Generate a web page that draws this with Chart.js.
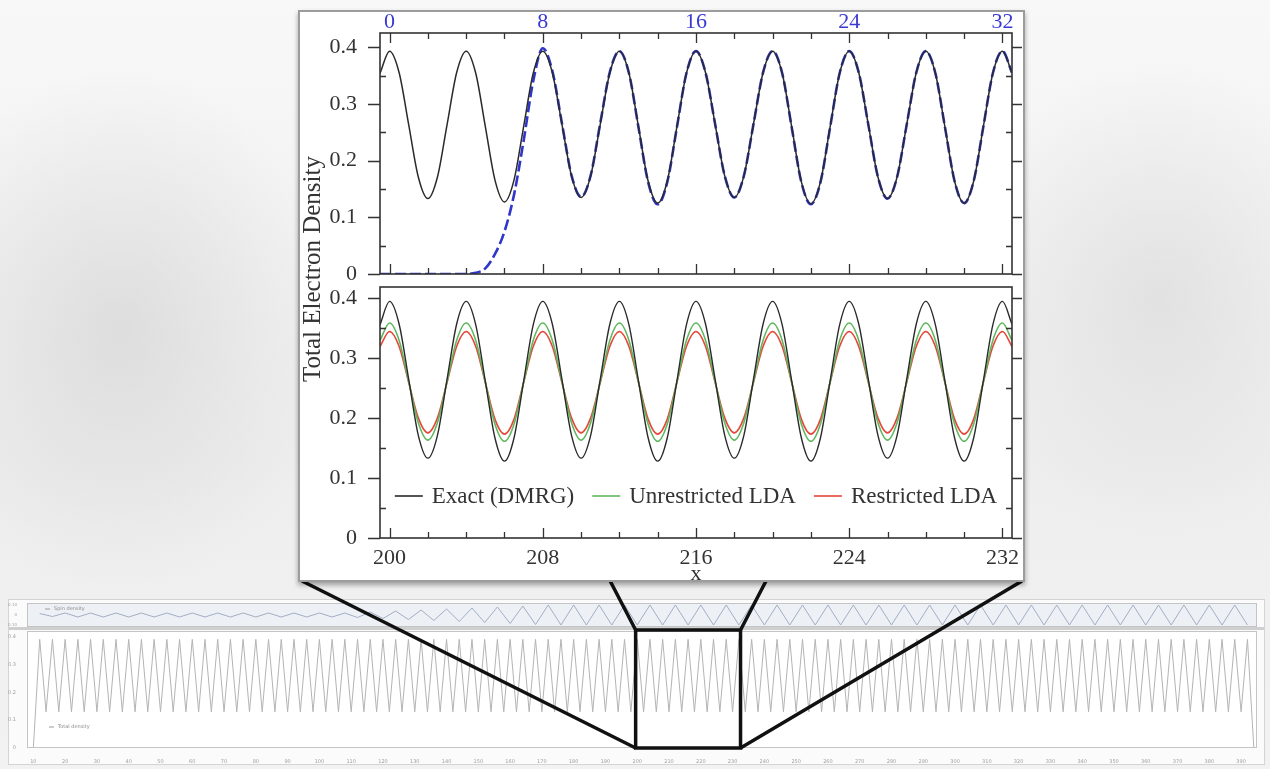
<!DOCTYPE html>
<html>
<head>
<meta charset="utf-8">
<script src="https://cdn.jsdelivr.net/npm/chart.js@4.4.1/dist/chart.umd.min.js"></script>
<style>
html,body{margin:0;padding:0;width:1270px;height:769px;overflow:hidden;}
body{position:relative;
  background:
    radial-gradient(ellipse 220px 260px at 120px 330px, rgba(205,205,205,0.55), rgba(205,205,205,0) 100%),
    radial-gradient(ellipse 200px 240px at 1160px 300px, rgba(210,210,210,0.5), rgba(210,210,210,0) 100%),
    linear-gradient(#f8f8f8, #eeeeee 60%, #f2f2f2);
}
canvas{position:absolute;display:block;}
#miniBox{position:absolute;left:8px;top:599px;width:1257px;height:166px;background:#fbfbfb;border:1px solid #d4d4d4;box-sizing:border-box;z-index:0;}
#miniSep{position:absolute;left:9px;top:627px;width:1255px;height:3px;background:#cfcfcf;z-index:1;}
#inset{position:absolute;left:298px;top:10px;width:727px;height:572px;box-sizing:border-box;background:#fff;border:2px solid #9c9c9c;box-shadow:0 3px 5px rgba(0,0,0,0.35);z-index:3;}
#ytitle{position:absolute;left:162px;top:255px;width:300px;height:28px;line-height:28px;text-align:center;transform:rotate(-90deg);font-family:'Liberation Serif',serif;font-size:25px;color:#333;z-index:5;white-space:nowrap;}
</style>
</head>
<body>
<div id="miniBox"></div>
<canvas id="miniTop" width="1257" height="30" style="left:8px;top:600px;z-index:1"></canvas>
<canvas id="miniBottom" width="1257" height="137" style="left:8px;top:628px;z-index:1"></canvas>
<div id="miniSep"></div>
<canvas id="overlay" width="1270" height="769" style="left:0;top:0;z-index:2"></canvas>
<div id="inset"></div>
<canvas id="topChart" width="725" height="281" style="left:300px;top:0;z-index:4"></canvas>
<canvas id="bottomChart" width="725" height="310" style="left:300px;top:281px;z-index:4"></canvas>
<div id="ytitle">Total Electron Density</div>
<script>
// ---------------- data ----------------
const sites = [199.5,200,200.5,201,201.5,202,202.5,203,203.5,204,204.5,205,205.5,206,206.5,207,207.5,208,
  208.5,209,209.5,210,210.5,211,211.5,212,212.5,213,213.5,214,214.5,215,215.5,216,216.5,217,217.5,218,
  218.5,219,219.5,220,220.5,221,221.5,222,222.5,223,223.5,224,224.5,225,225.5,226,226.5,227,227.5,228,
  228.5,229,229.5,230,230.5,231,231.5,232,232.5];

const exactTop = [0.354,0.393,
  0.355,0.263,0.171,0.133,0.171,0.263,0.355,0.393,
  0.354,0.260,0.166,0.127,0.166,0.260,0.354,0.393,
  0.355,0.264,0.173,0.135,0.173,0.264,0.355,0.393,
  0.354,0.259,0.164,0.125,0.164,0.259,0.354,0.393,
  0.355,0.264,0.173,0.135,0.173,0.264,0.355,0.393,
  0.354,0.259,0.163,0.124,0.163,0.259,0.354,0.393,
  0.355,0.263,0.171,0.133,0.171,0.263,0.355,0.393,
  0.354,0.259,0.164,0.125,0.164,0.259,0.354,0.393,
  0.355];

const dashedTop = [0,0,0,0,0,0,0,0,0,0,
  0.002,0.010,0.035,0.075,0.140,0.235,0.340,0.398,
  0.358,0.266,0.174,0.136,0.174,0.266,0.356,0.393,
  0.354,0.258,0.162,0.123,0.162,0.258,0.354,0.393,
  0.355,0.264,0.173,0.135,0.173,0.264,0.355,0.393,
  0.354,0.258,0.162,0.123,0.162,0.258,0.354,0.393,
  0.355,0.263,0.171,0.133,0.171,0.263,0.355,0.393,
  0.354,0.259,0.164,0.125,0.164,0.259,0.354,0.393,
  0.355];

const exactBottom = [0.355,0.394,
  0.356,0.264,0.171,0.133,0.171,0.264,0.356,0.394,
  0.355,0.261,0.167,0.128,0.167,0.261,0.355,0.394,
  0.356,0.264,0.171,0.133,0.171,0.264,0.356,0.394,
  0.355,0.261,0.167,0.128,0.167,0.261,0.355,0.394,
  0.356,0.264,0.171,0.133,0.171,0.264,0.356,0.394,
  0.355,0.261,0.167,0.128,0.167,0.261,0.355,0.394,
  0.356,0.264,0.171,0.133,0.171,0.264,0.356,0.394,
  0.355,0.261,0.167,0.128,0.167,0.261,0.355,0.394,
  0.356];

const unrestrictedLDA = [0.329,0.358,
  0.329,0.260,0.192,0.163,0.192,0.260,0.329,0.358,
  0.329,0.259,0.190,0.161,0.190,0.259,0.329,0.358,
  0.329,0.260,0.192,0.163,0.192,0.260,0.329,0.358,
  0.329,0.259,0.190,0.161,0.190,0.259,0.329,0.358,
  0.329,0.260,0.192,0.163,0.192,0.260,0.329,0.358,
  0.329,0.259,0.190,0.161,0.190,0.259,0.329,0.358,
  0.329,0.260,0.192,0.163,0.192,0.260,0.329,0.358,
  0.329,0.259,0.190,0.161,0.190,0.259,0.329,0.358,
  0.329];

const restrictedLDA = [0.319,0.344,
  0.319,0.259,0.200,0.175,0.200,0.259,0.319,0.344,
  0.319,0.259,0.198,0.173,0.198,0.259,0.319,0.344,
  0.319,0.259,0.200,0.175,0.200,0.259,0.319,0.344,
  0.319,0.259,0.198,0.173,0.198,0.259,0.319,0.344,
  0.319,0.259,0.200,0.175,0.200,0.259,0.319,0.344,
  0.319,0.259,0.198,0.173,0.198,0.259,0.319,0.344,
  0.319,0.259,0.200,0.175,0.200,0.259,0.319,0.344,
  0.319,0.259,0.198,0.173,0.198,0.259,0.319,0.344,
  0.319];

const seriesNames = ['Exact (DMRG)', 'Unrestricted LDA', 'Restricted LDA'];
const xTickValues = [200, 208, 216, 224, 232];
const xTickLabelsBottom = ['200', '208', '216', '224', '232'];
const xTickLabelsTop = ['0', '8', '16', '24', '32'];
const yTickValues = [0, 0.1, 0.2, 0.3, 0.4];
const yTickLabels = ['0', '0.1', '0.2', '0.3', '0.4'];
const yMinorValues = [0.05, 0.15, 0.25, 0.35];
const xRange = [199.5, 232.5];

// overview strip (whole chain)
const miniTotalStart = 10, miniTotalStep = 2;
const miniTotal = [0,
  0.39,0.13,0.39,0.13,0.39,0.13,0.39,0.13,0.39,0.13,0.39,0.13,0.39,0.13,0.39,0.13,
  0.39,0.13,0.39,0.13,0.39,0.13,0.39,0.13,0.39,0.13,0.39,0.13,0.39,0.13,0.39,0.13,
  0.39,0.13,0.39,0.13,0.39,0.13,0.39,0.13,0.39,0.13,0.39,0.13,0.39,0.13,0.39,0.13,
  0.39,0.13,0.39,0.13,0.39,0.13,0.39,0.13,0.39,0.13,0.39,0.13,0.39,0.13,0.39,0.13,
  0.39,0.13,0.39,0.13,0.39,0.13,0.39,0.13,0.39,0.13,0.39,0.13,0.39,0.13,0.39,0.13,
  0.39,0.13,0.39,0.13,0.39,0.13,0.39,0.13,0.39,0.13,0.39,0.13,0.39,0.13,0.39,0.13,
  0.39,0.13,0.39,0.13,0.39,0.13,0.39,0.13,0.39,0.13,0.39,0.13,0.39,0.13,0.39,0.13,
  0.39,0.13,0.39,0.13,0.39,0.13,0.39,0.13,0.39,0.13,0.39,0.13,0.39,0.13,0.39,0.13,
  0.39,0.13,0.39,0.13,0.39,0.13,0.39,0.13,0.39,0.13,0.39,0.13,0.39,0.13,0.39,0.13,
  0.39,0.13,0.39,0.13,0.39,0.13,0.39,0.13,0.39,0.13,0.39,0.13,0.39,0.13,0.39,0.13,
  0.39,0.13,0.39,0.13,0.39,0.13,0.39,0.13,0.39,0.13,0.39,0.13,0.39,0.13,0.39,0.13,
  0.39,0.13,0.39,0.13,0.39,0.13,0.39,0.13,0.39,0.13,0.39,0.13,0.39,0.13,
  0.39,0];

const miniSpinStart = 12, miniSpinStep = 4;
const miniSpin = [
  0.015,-0.015,0.02,-0.02,0.02,-0.02,0.02,-0.02,0.02,-0.02,0.02,-0.02,0.02,
  -0.02,0.02,-0.02,0.02,-0.02,0.02,-0.02,0.02,-0.02,0.02,-0.02,0.02,
  -0.025,0.03,-0.035,0.04,-0.045,0.05,-0.055,0.06,-0.065,0.07,-0.075,0.08,-0.085,0.09,-0.095,
  0.1,-0.1,0.1,-0.1,0.1,-0.1,0.1,-0.1,0.1,-0.1,0.1,-0.1,0.1,-0.1,0.1,-0.1,
  0.1,-0.1,0.1,-0.1,0.1,-0.1,0.1,-0.1,0.1,-0.1,0.1,-0.1,0.1,-0.1,0.1,-0.1,
  0.1,-0.1,0.1,-0.1,0.1,-0.1,0.1,-0.1,0.1,-0.1,0.1,-0.1,0.1,-0.1,0.1,-0.1,
  0.1,-0.1,0.1,-0.1,0.1,-0.1,0.1,-0.1];
const miniRange = [8, 395];
const miniXTicks = [10,20,30,40,50,60,70,80,90,100,110,120,130,140,150,160,170,180,190,200,
  210,220,230,240,250,260,270,280,290,300,310,320,330,340,350,360,370,380,390];
const miniYTicks = [0, 0.1, 0.2, 0.3, 0.4];
const miniSpinTicks = [-0.1, -0.05, 0, 0.05, 0.1];
const miniLabels = ['Spin density', 'Total density'];

// ---------------- helpers ----------------
Chart.defaults.animation = false;
Chart.defaults.font.family = "'Liberation Serif','Times New Roman',serif";
const pts = (xs, ys) => ys.map((y, i) => ({x: xs[i], y}));
const seq = (start, step, arr) => arr.map((_, i) => start + step * i);
const noPad = s => { s.paddingTop = 0; s.paddingBottom = 0; s.paddingLeft = 0; s.paddingRight = 0; };

const frameTicks = {
  id: 'frameTicks',
  afterDatasetsDraw(chart, args, o) {
    const {ctx, chartArea: a} = chart;
    const xs = chart.scales.x, ys = chart.scales.y;
    ctx.save();
    ctx.strokeStyle = o.color;
    ctx.lineWidth = o.width;
    ctx.strokeRect(a.left, a.top, a.right - a.left, a.bottom - a.top);
    ctx.lineWidth = 1.3;
    ctx.beginPath();
    for (let v = xTickValues[0]; v <= xTickValues[xTickValues.length - 1]; v += 2) {
      const px = Math.round(xs.getPixelForValue(v)) + 0.5;
      const len = xTickValues.includes(v) ? 10 : 6;
      if (o.bottomTicks) { ctx.moveTo(px, a.bottom); ctx.lineTo(px, a.bottom - len); }
      if (o.topTicks) { ctx.moveTo(px, a.top); ctx.lineTo(px, a.top + len); }
    }
    for (const v of yMinorValues) {
      const py = Math.round(ys.getPixelForValue(v)) + 0.5;
      ctx.moveTo(a.left, py); ctx.lineTo(a.left + 6, py);
      ctx.moveTo(a.right, py); ctx.lineTo(a.right - 6, py);
    }
    for (const v of yTickValues) {
      const py = Math.round(ys.getPixelForValue(v)) + 0.5;
      ctx.moveTo(a.left - 12, py); ctx.lineTo(a.left, py);
      ctx.moveTo(a.right, py); ctx.lineTo(a.right + 10, py);
    }
    ctx.stroke();
    ctx.restore();
  }
};

const insideLegend = {
  id: 'insideLegend',
  afterDatasetsDraw(chart, args, o) {
    if (!o.show) return;
    const {ctx, chartArea: a} = chart;
    ctx.save();
    ctx.font = o.size + "px 'Liberation Serif', serif";
    const items = chart.data.datasets.map(d => ({label: d.label, color: d.borderColor, w: ctx.measureText(d.label).width}));
    const total = items.reduce((s, it) => s + o.line + o.gap + it.w, 0) + o.itemGap * (items.length - 1);
    let x = (a.left + a.right) / 2 - total / 2;
    const y = a.top + o.offsetY;
    ctx.textBaseline = 'middle';
    for (const it of items) {
      ctx.strokeStyle = it.color; ctx.lineWidth = 1.6;
      ctx.beginPath(); ctx.moveTo(x, y); ctx.lineTo(x + o.line, y); ctx.stroke();
      x += o.line + o.gap;
      ctx.fillStyle = '#333';
      ctx.fillText(it.label, x, y + 1);
      x += it.w + o.itemGap;
    }
    ctx.restore();
  }
};

const yAxis = (max) => ({
  type: 'linear', min: 0, max,
  afterFit: s => { s.width = 80; noPad(s); },
  afterBuildTicks: s => { s.ticks = yTickValues.map(v => ({value: v})); },
  ticks: { callback: v => yTickLabels[yTickValues.indexOf(v)], font: {size: 22}, color: '#333', padding: 15 },
  grid: {display: false}, border: {display: false}
});

// ---------------- inset: top panel ----------------
new Chart(document.getElementById('topChart'), {
  type: 'line',
  data: { datasets: [
    { label: 'Exact (DMRG)', data: pts(sites, exactTop), borderColor: '#2a2a2a', borderWidth: 1.5, pointRadius: 0, cubicInterpolationMode: 'monotone' },
    { label: 'Adiabatic', data: pts(sites, dashedTop), borderColor: '#2f36c9', borderWidth: 2.6, borderDash: [11, 4], pointRadius: 0, cubicInterpolationMode: 'monotone' }
  ]},
  options: {
    responsive: false, animation: false,
    layout: { padding: {left: 0, right: 13, top: 0, bottom: 7} },
    plugins: { legend: {display: false}, tooltip: {enabled: false},
      frameTicks: {color: '#333', width: 1.6, topTicks: true, bottomTicks: true} },
    scales: {
      x: { type: 'linear', position: 'top', min: xRange[0], max: xRange[1],
        afterFit: s => { s.height = 33; noPad(s); },
        afterBuildTicks: s => { s.ticks = xTickValues.map(v => ({value: v})); },
        ticks: { callback: v => xTickLabelsTop[xTickValues.indexOf(v)], font: {size: 22}, color: '#3a3ad2', padding: -10, maxRotation: 0, autoSkip: false },
        grid: {display: false}, border: {display: false} },
      y: yAxis(0.425)
    }
  },
  plugins: [frameTicks]
});

// ---------------- inset: bottom panel ----------------
new Chart(document.getElementById('bottomChart'), {
  type: 'line',
  data: { datasets: [
    { label: seriesNames[0], data: pts(sites, exactBottom), borderColor: '#2a2a2a', borderWidth: 1.4, pointRadius: 0, cubicInterpolationMode: 'monotone', order: 1 },
    { label: seriesNames[1], data: pts(sites, unrestrictedLDA), borderColor: '#5fb85f', borderWidth: 1.6, pointRadius: 0, cubicInterpolationMode: 'monotone', order: 2 },
    { label: seriesNames[2], data: pts(sites, restrictedLDA), borderColor: '#e5473a', borderWidth: 1.6, pointRadius: 0, cubicInterpolationMode: 'monotone', order: 3 }
  ]},
  options: {
    responsive: false, animation: false,
    layout: { padding: {left: 0, right: 13, top: 6, bottom: 0} },
    plugins: { legend: {display: false}, tooltip: {enabled: false},
      frameTicks: {color: '#333', width: 1.6, topTicks: false, bottomTicks: true},
      insideLegend: {show: true, size: 23, line: 28, gap: 9, itemGap: 18, offsetY: 209} },
    scales: {
      x: { type: 'linear', position: 'bottom', min: xRange[0], max: xRange[1],
        afterFit: s => { s.height = 53; noPad(s); },
        afterBuildTicks: s => { s.ticks = xTickValues.map(v => ({value: v})); },
        ticks: { callback: v => xTickLabelsBottom[xTickValues.indexOf(v)], font: {size: 22}, color: '#333', padding: -1, maxRotation: 0, autoSkip: false },
        title: { display: true, text: 'x', font: {size: 22}, color: '#333', padding: {top: 0, bottom: 4} },
        grid: {display: false}, border: {display: false} },
      y: yAxis(0.418)
    }
  },
  plugins: [frameTicks, insideLegend]
});

// ---------------- overview strip ----------------
const miniFrame = {
  id: 'miniFrame',
  beforeDatasetsDraw(chart, args, o) {
    const {ctx, chartArea: a} = chart;
    ctx.save();
    if (o.fill) { ctx.fillStyle = o.fill; ctx.fillRect(a.left, a.top, a.right - a.left, a.bottom - a.top); }
    ctx.restore();
  },
  afterDatasetsDraw(chart, args, o) {
    const {ctx, chartArea: a} = chart;
    ctx.save();
    ctx.strokeStyle = '#c4c4c4'; ctx.lineWidth = 1;
    ctx.strokeRect(a.left + 0.5, a.top + 0.5, a.right - a.left - 1, a.bottom - a.top - 1);
    ctx.font = "5px 'DejaVu Sans', sans-serif";
    ctx.fillStyle = '#8a8a8a'; ctx.textBaseline = 'middle';
    ctx.strokeStyle = '#9a9a9a';
    ctx.beginPath(); ctx.moveTo(a.left + o.lx, a.top + o.ly); ctx.lineTo(a.left + o.lx + 5, a.top + o.ly); ctx.stroke();
    ctx.fillText(o.label, a.left + o.lx + 9, a.top + o.ly);
    ctx.restore();
  }
};

const miniX = (display) => ({
  type: 'linear', min: miniRange[0], max: miniRange[1], display,
  afterFit: s => { s.height = display ? 17 : 0; noPad(s); },
  afterBuildTicks: s => { s.ticks = miniXTicks.map(v => ({value: v})); },
  ticks: { font: {size: 5, family: "'DejaVu Sans', sans-serif"}, color: '#a0a0a0', padding: 3, maxRotation: 0, autoSkip: false },
  grid: {display: false}, border: {display: false}
});

new Chart(document.getElementById('miniTop'), {
  type: 'line',
  data: { datasets: [{ label: miniLabels[0], data: pts(seq(miniSpinStart, miniSpinStep, miniSpin), miniSpin), borderColor: '#a3aec4', borderWidth: 1, pointRadius: 0 }] },
  options: {
    responsive: false, animation: false,
    layout: { padding: {left: 0, right: 8, top: 3, bottom: 3} },
    plugins: { legend: {display: false}, tooltip: {enabled: false}, miniFrame: {fill: '#edf1f6', label: miniLabels[0], lx: 18, ly: 6} },
    scales: {
      x: miniX(false),
      y: { type: 'linear', min: -0.12, max: 0.12,
        afterFit: s => { s.width = 19; noPad(s); },
        afterBuildTicks: s => { s.ticks = miniSpinTicks.map(v => ({value: v})); },
        ticks: { font: {size: 4, family: "'DejaVu Sans', sans-serif"}, color: '#a0a0a0', padding: 2 },
        grid: {display: false}, border: {display: false} }
    }
  },
  plugins: [miniFrame]
});

const miniChart = new Chart(document.getElementById('miniBottom'), {
  type: 'line',
  data: { datasets: [{ label: miniLabels[1], data: pts(seq(miniTotalStart, miniTotalStep, miniTotal), miniTotal), borderColor: '#b4b4b4', borderWidth: 1, pointRadius: 0 }] },
  options: {
    responsive: false, animation: false,
    layout: { padding: {left: 0, right: 8, top: 3, bottom: 0} },
    plugins: { legend: {display: false}, tooltip: {enabled: false}, miniFrame: {fill: '#ffffff', label: miniLabels[1], lx: 22, ly: 96} },
    scales: {
      x: miniX(true),
      y: { type: 'linear', min: 0, max: 0.42,
        afterFit: s => { s.width = 19; noPad(s); },
        afterBuildTicks: s => { s.ticks = miniYTicks.map(v => ({value: v})); },
        ticks: { font: {size: 5, family: "'DejaVu Sans', sans-serif"}, color: '#a0a0a0', padding: 3 },
        grid: {display: false}, border: {display: false} }
    }
  },
  plugins: [miniFrame]
});

// ---------------- zoom indicator (from the overview's own scale) ----------------
(function drawZoom() {
  const cv = document.getElementById('overlay');
  const ctx = cv.getContext('2d');
  const xs = miniChart.scales.x, a = miniChart.chartArea;
  const offX = 8, offY = 628;
  const L = offX + xs.getPixelForValue(xRange[0]);
  const R = offX + xs.getPixelForValue(xRange[1]);
  const T = offY + a.top - 1, B = offY + a.bottom;
  const insetL = 302, insetR = 1022, insetB = 581;
  const slant = (T - insetB) * 0.52;
  ctx.strokeStyle = '#111';
  ctx.lineWidth = 3.5;
  ctx.lineJoin = 'miter';
  ctx.strokeRect(L, T, R - L, B - T);
  ctx.beginPath();
  ctx.moveTo(insetL, insetB); ctx.lineTo(L, B);
  ctx.moveTo(L - slant, insetB); ctx.lineTo(L, T);
  ctx.moveTo(R + slant, insetB); ctx.lineTo(R, T);
  ctx.moveTo(insetR, insetB); ctx.lineTo(R, B);
  ctx.stroke();
})();
</script>
</body>
</html>
